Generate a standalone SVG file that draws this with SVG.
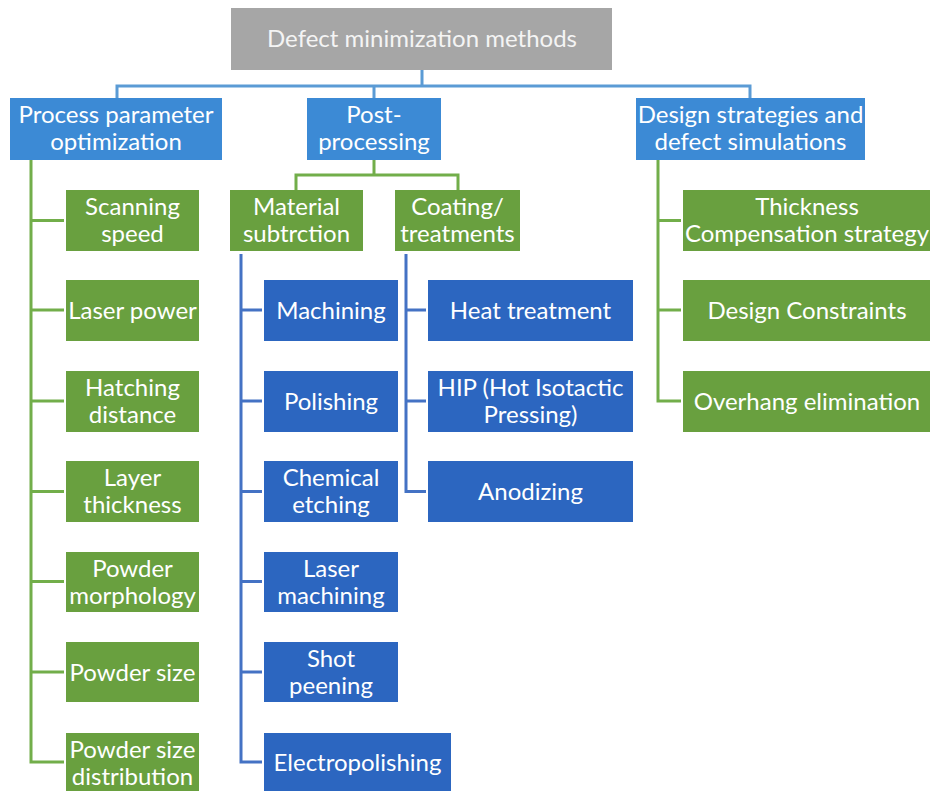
<svg xmlns="http://www.w3.org/2000/svg" width="930" height="791" viewBox="0 0 930 791">
<style>
  .t{font-family:Lato,"Open Sans","Liberation Sans",sans-serif;font-size:24px;fill:#ffffff;text-anchor:middle}
  .root{fill:#A6A6A6}
  .l1{fill:#3C8AD5}
  .g{fill:#69A03F}
  .b{fill:#2C66C0}
  .cb{fill:none;stroke:#5B9BD5;stroke-width:3}
  .cg{fill:none;stroke:#72AE4A;stroke-width:3}
  .cd{fill:none;stroke:#4472C4;stroke-width:3}
</style>
<rect width="930" height="791" fill="#ffffff"/>
<g id="connectors">
  <path class="cb" d="M422 70 V86 M117 98 V86 H750 V98 M374 86 V98"/>
  <path class="cg" d="M31 160 V762 H64 M31 220.5 H64 M31 310 H64 M31 401 H64 M31 491.5 H64 M31 581.5 H64 M31 672 H64"/>
  <path class="cg" d="M374 160 V175 M296 190 V175 H458 V190"/>
  <path class="cd" d="M241 254 V762 H262 M241 310 H262 M241 401 H262 M241 491.5 H262 M241 581.5 H262 M241 672 H262"/>
  <path class="cd" d="M406 254 V491.5 H426 M406 310 H426 M406 401 H426"/>
  <path class="cg" d="M658 160 V401 H681 M658 220.5 H681 M658 310 H681"/>
</g>
<g id="root"><rect class="root" x="231" y="8" width="381" height="62"/><text class="t" x="422" y="47" style="fill:#F4F4F4">Defect minimization methods</text></g>
<g id="ppo"><rect class="l1" x="10" y="98" width="212" height="62"/><text class="t" x="116" y="123">Process parameter</text><text class="t" x="116" y="150">optimization</text></g>
<g id="post"><rect class="l1" x="307" y="98" width="134" height="62"/><text class="t" x="374" y="123">Post-</text><text class="t" x="374" y="150">processing</text></g>
<g id="design"><rect class="l1" x="636" y="98" width="229" height="62"/><text class="t" x="750.5" y="123">Design strategies and</text><text class="t" x="750.5" y="150">defect simulations</text></g>

<g id="scan"><rect class="g" x="66" y="190" width="133" height="61"/><text class="t" x="132.5" y="215">Scanning</text><text class="t" x="132.5" y="242">speed</text></g>
<g id="laserpower"><rect class="g" x="66" y="280" width="133" height="61"/><text class="t" x="132.5" y="319">Laser power</text></g>
<g id="hatch"><rect class="g" x="66" y="371" width="133" height="61"/><text class="t" x="132.5" y="396">Hatching</text><text class="t" x="132.5" y="423">distance</text></g>
<g id="layer"><rect class="g" x="66" y="461" width="133" height="61"/><text class="t" x="132.5" y="486">Layer</text><text class="t" x="132.5" y="513">thickness</text></g>
<g id="morph"><rect class="g" x="66" y="552" width="133" height="60"/><text class="t" x="132.5" y="577">Powder</text><text class="t" x="132.5" y="604">morphology</text></g>
<g id="psize"><rect class="g" x="66" y="642" width="133" height="60"/><text class="t" x="132.5" y="681">Powder size</text></g>
<g id="psd"><rect class="g" x="66" y="733" width="133" height="60"/><text class="t" x="132.5" y="758">Powder size</text><text class="t" x="132.5" y="785">distribution</text></g>

<g id="matsub"><rect class="g" x="230" y="190" width="133" height="61"/><text class="t" x="296.5" y="215">Material</text><text class="t" x="296.5" y="242">subtrction</text></g>
<g id="coat"><rect class="g" x="395" y="190" width="125" height="61"/><text class="t" x="457.5" y="215">Coating/</text><text class="t" x="457.5" y="242">treatments</text></g>

<g id="machining"><rect class="b" x="264" y="280" width="134" height="61"/><text class="t" x="331" y="319">Machining</text></g>
<g id="polishing"><rect class="b" x="264" y="371" width="134" height="61"/><text class="t" x="331" y="410">Polishing</text></g>
<g id="chem"><rect class="b" x="264" y="461" width="134" height="61"/><text class="t" x="331" y="486">Chemical</text><text class="t" x="331" y="513">etching</text></g>
<g id="lasermach"><rect class="b" x="264" y="552" width="134" height="60"/><text class="t" x="331" y="577">Laser</text><text class="t" x="331" y="604">machining</text></g>
<g id="shot"><rect class="b" x="264" y="642" width="134" height="60"/><text class="t" x="331" y="667">Shot</text><text class="t" x="331" y="694">peening</text></g>
<g id="electro"><rect class="b" x="264" y="733" width="187" height="60"/><text class="t" x="357.5" y="771">Electropolishing</text></g>

<g id="heat"><rect class="b" x="428" y="280" width="205" height="61"/><text class="t" x="530.5" y="319">Heat treatment</text></g>
<g id="hip"><rect class="b" x="428" y="371" width="205" height="61"/><text class="t" x="530.5" y="396">HIP (Hot Isotactic</text><text class="t" x="530.5" y="423">Pressing)</text></g>
<g id="anod"><rect class="b" x="428" y="461" width="205" height="61"/><text class="t" x="530.5" y="500">Anodizing</text></g>

<g id="thick"><rect class="g" x="683" y="190" width="248" height="61"/><text class="t" x="807" y="215">Thickness</text><text class="t" x="807" y="242">Compensation strategy</text></g>
<g id="constraints"><rect class="g" x="683" y="280" width="248" height="61"/><text class="t" x="807" y="319">Design Constraints</text></g>
<g id="overhang"><rect class="g" x="683" y="371" width="248" height="61"/><text class="t" x="807" y="410">Overhang elimination</text></g>
</svg>
